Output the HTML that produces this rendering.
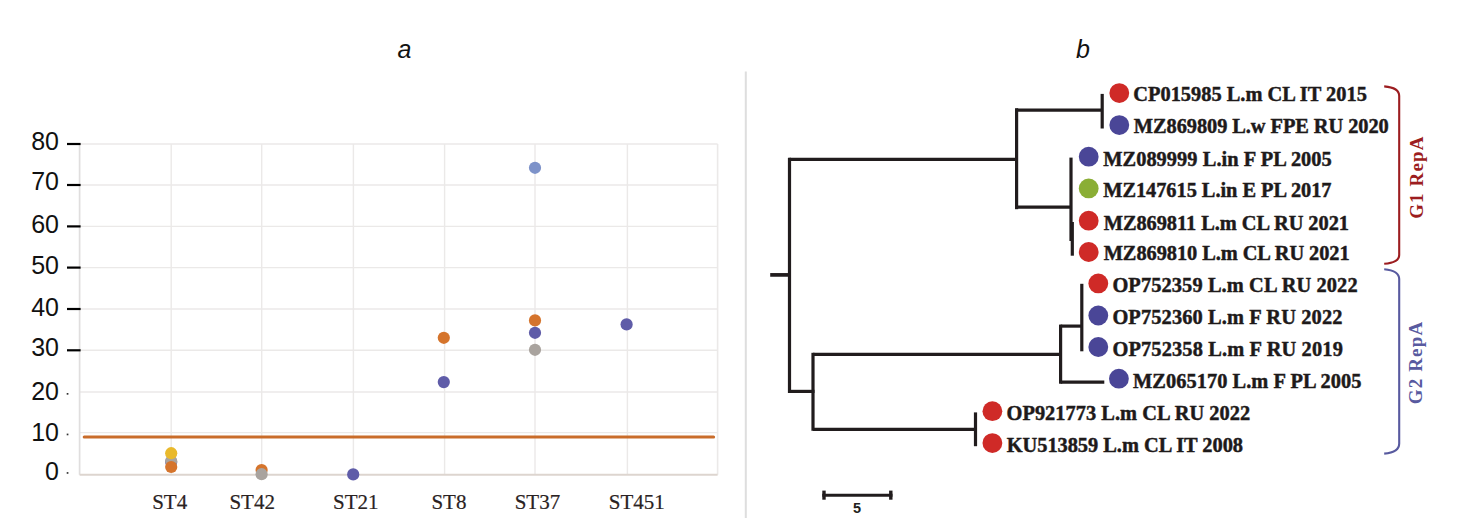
<!DOCTYPE html>
<html><head><meta charset="utf-8"><style>
html,body{margin:0;padding:0;background:#fff;width:1459px;height:530px;overflow:hidden}
svg{display:block}
.yl{font-family:"Liberation Sans",sans-serif;font-size:25px;fill:#111}
.xl{font-family:"Liberation Serif",serif;font-size:21px;fill:#2a2222;stroke:#2a2222;stroke-width:0.2px}
.pl{font-family:"Liberation Sans",sans-serif;font-style:italic;font-size:25px;fill:#111}
.tl{font-family:"Liberation Serif",serif;font-weight:bold;font-size:20.4px;fill:#1e1a1a;stroke:#1e1a1a;stroke-width:0.45px}
.sb{font-family:"Liberation Sans",sans-serif;font-weight:bold;font-size:14.5px;fill:#231f20}
.gl{font-family:"Liberation Serif",serif;font-weight:bold;font-size:19px;letter-spacing:1.15px}
</style></head><body>
<svg width="1459" height="530" viewBox="0 0 1459 530">
<line x1="79.6" y1="144.0" x2="717.6" y2="144.0" stroke="#ebe9e8" stroke-width="1.4"/>
<line x1="79.6" y1="185.0" x2="717.6" y2="185.0" stroke="#ebe9e8" stroke-width="1.4"/>
<line x1="79.6" y1="226.4" x2="717.6" y2="226.4" stroke="#ebe9e8" stroke-width="1.4"/>
<line x1="79.6" y1="267.6" x2="717.6" y2="267.6" stroke="#ebe9e8" stroke-width="1.4"/>
<line x1="79.6" y1="309.0" x2="717.6" y2="309.0" stroke="#ebe9e8" stroke-width="1.4"/>
<line x1="79.6" y1="350.3" x2="717.6" y2="350.3" stroke="#ebe9e8" stroke-width="1.4"/>
<line x1="79.6" y1="392.0" x2="717.6" y2="392.0" stroke="#ebe9e8" stroke-width="1.4"/>
<line x1="79.6" y1="432.6" x2="717.6" y2="432.6" stroke="#ebe9e8" stroke-width="1.4"/>
<line x1="171.2" y1="144.0" x2="171.2" y2="474.7" stroke="#ebe9e8" stroke-width="1.4"/>
<line x1="261.7" y1="144.0" x2="261.7" y2="474.7" stroke="#ebe9e8" stroke-width="1.4"/>
<line x1="353.4" y1="144.0" x2="353.4" y2="474.7" stroke="#ebe9e8" stroke-width="1.4"/>
<line x1="444.6" y1="144.0" x2="444.6" y2="474.7" stroke="#ebe9e8" stroke-width="1.4"/>
<line x1="535.0" y1="144.0" x2="535.0" y2="474.7" stroke="#ebe9e8" stroke-width="1.4"/>
<line x1="627.4" y1="144.0" x2="627.4" y2="474.7" stroke="#ebe9e8" stroke-width="1.4"/>
<line x1="717.6" y1="144.0" x2="717.6" y2="474.7" stroke="#ebe9e8" stroke-width="1.6"/>
<line x1="79.6" y1="144.0" x2="79.6" y2="474.7" stroke="#e0dede" stroke-width="1.7"/>
<line x1="79.6" y1="474.7" x2="717.6" y2="474.7" stroke="#ddd5cf" stroke-width="2"/>
<line x1="67" y1="144.0" x2="80.6" y2="144.0" stroke="#000" stroke-width="2.2"/>
<line x1="67" y1="185.0" x2="80.6" y2="185.0" stroke="#000" stroke-width="2.2"/>
<line x1="67" y1="226.4" x2="80.6" y2="226.4" stroke="#000" stroke-width="2.2"/>
<line x1="67" y1="267.6" x2="80.6" y2="267.6" stroke="#000" stroke-width="2.2"/>
<line x1="67" y1="309.0" x2="80.6" y2="309.0" stroke="#000" stroke-width="2.2"/>
<line x1="67" y1="350.3" x2="80.6" y2="350.3" stroke="#000" stroke-width="2.2"/>
<rect x="66.7" y="393.0" width="1.7" height="1.7" fill="#333"/>
<rect x="66.7" y="433.6" width="1.7" height="1.7" fill="#333"/>
<rect x="66.7" y="472.1" width="1.7" height="1.7" fill="#333"/>
<text x="59" y="150.4" text-anchor="end" class="yl">80</text>
<text x="59" y="190.4" text-anchor="end" class="yl">70</text>
<text x="59" y="233.3" text-anchor="end" class="yl">60</text>
<text x="59" y="274.4" text-anchor="end" class="yl">50</text>
<text x="59" y="316.0" text-anchor="end" class="yl">40</text>
<text x="59" y="356.4" text-anchor="end" class="yl">30</text>
<text x="59" y="400.4" text-anchor="end" class="yl">20</text>
<text x="59" y="440.8" text-anchor="end" class="yl">10</text>
<text x="59" y="479.5" text-anchor="end" class="yl">0</text>
<text x="152.2" y="509.2" class="xl">ST4</text>
<text x="229.4" y="509.2" class="xl">ST42</text>
<text x="333.0" y="509.2" class="xl">ST21</text>
<text x="431.4" y="509.2" class="xl">ST8</text>
<text x="514.7" y="509.2" class="xl">ST37</text>
<text x="608.8" y="509.2" class="xl">ST451</text>
<line x1="84.2" y1="436.9" x2="713.6" y2="436.9" stroke="#c96c2a" stroke-width="3" stroke-linecap="round"/>
<circle cx="171.2" cy="462.0" r="6.1" fill="#5f5ca8"/>
<circle cx="171.2" cy="461.0" r="6.1" fill="#a9a39e"/>
<circle cx="171.2" cy="467.0" r="6.1" fill="#d5742c"/>
<circle cx="171.2" cy="453.2" r="6.1" fill="#e9b92c"/>
<circle cx="261.6" cy="470.0" r="6.1" fill="#d5742c"/>
<circle cx="261.6" cy="474.2" r="6.1" fill="#a9a39e"/>
<circle cx="353.2" cy="474.4" r="6.1" fill="#5f5ca8"/>
<circle cx="443.8" cy="337.8" r="6.1" fill="#d5742c"/>
<circle cx="443.8" cy="382.1" r="6.1" fill="#5f5ca8"/>
<circle cx="535.0" cy="167.8" r="6.1" fill="#7d92c9"/>
<circle cx="535.0" cy="320.4" r="6.1" fill="#d5742c"/>
<circle cx="535.0" cy="332.8" r="6.1" fill="#5f5ca8"/>
<circle cx="535.0" cy="349.8" r="6.1" fill="#a9a39e"/>
<circle cx="626.6" cy="324.4" r="6.1" fill="#5f5ca8"/>
<text x="397.5" y="57.8" class="pl">a</text>
<text x="1076" y="57.8" class="pl">b</text>
<line x1="745.8" y1="71.6" x2="745.8" y2="518" stroke="#dedede" stroke-width="2"/>
<line x1="770.2" y1="274.9" x2="789.5" y2="274.9" stroke="#211c1d" stroke-width="3.7"/>
<line x1="789.5" y1="157.8" x2="789.5" y2="393.0" stroke="#211c1d" stroke-width="3.2"/>
<line x1="789.5" y1="159.4" x2="1016.6" y2="159.4" stroke="#211c1d" stroke-width="3.2"/>
<line x1="1016.6" y1="108.2" x2="1016.6" y2="209.2" stroke="#211c1d" stroke-width="3.2"/>
<line x1="1016.6" y1="110.2" x2="1102.2" y2="110.2" stroke="#211c1d" stroke-width="3.2"/>
<line x1="1102.2" y1="93.9" x2="1102.2" y2="128.5" stroke="#211c1d" stroke-width="3.2"/>
<line x1="1016.6" y1="207.2" x2="1071" y2="207.2" stroke="#211c1d" stroke-width="3.2"/>
<line x1="1071" y1="157.6" x2="1071" y2="241" stroke="#211c1d" stroke-width="3.2"/>
<line x1="1072.3" y1="222" x2="1072.3" y2="255.7" stroke="#211c1d" stroke-width="3.2"/>
<line x1="789.5" y1="391.4" x2="814.5" y2="391.4" stroke="#211c1d" stroke-width="3.2"/>
<line x1="813" y1="352.8" x2="813" y2="430.8" stroke="#211c1d" stroke-width="3.2"/>
<line x1="813" y1="354.3" x2="1060.6" y2="354.3" stroke="#211c1d" stroke-width="3.2"/>
<line x1="1060.6" y1="324.6" x2="1060.6" y2="383.7" stroke="#211c1d" stroke-width="3.2"/>
<line x1="1060.6" y1="326.1" x2="1081.8" y2="326.1" stroke="#211c1d" stroke-width="3.2"/>
<line x1="1081.8" y1="283.8" x2="1081.8" y2="351.3" stroke="#211c1d" stroke-width="3.2"/>
<line x1="1060.6" y1="382.2" x2="1104.3" y2="382.2" stroke="#211c1d" stroke-width="3.2"/>
<line x1="813" y1="429.3" x2="975.5" y2="429.3" stroke="#211c1d" stroke-width="3.2"/>
<line x1="975.5" y1="412.4" x2="975.5" y2="446.2" stroke="#211c1d" stroke-width="3.2"/>
<circle cx="1119.3" cy="93.1" r="9.9" fill="#cf2a27"/>
<text x="1133.3" y="101.2" class="tl">CP015985 L.m CL IT 2015</text>
<circle cx="1119.3" cy="125.1" r="9.9" fill="#4a4697"/>
<text x="1133.8" y="133.2" class="tl" style="letter-spacing:-0.07px">MZ869809 L.w FPE RU 2020</text>
<circle cx="1088.7" cy="156.7" r="9.9" fill="#4a4697"/>
<text x="1103.2" y="165.5" class="tl" style="letter-spacing:0.05px">MZ089999 L.in F PL 2005</text>
<circle cx="1088.7" cy="188.4" r="9.9" fill="#8aae35"/>
<text x="1103.2" y="197.29999999999998" class="tl" style="letter-spacing:-0.05px">MZ147615 L.in E PL 2017</text>
<circle cx="1088.7" cy="220.7" r="9.9" fill="#cf2a27"/>
<text x="1103.7" y="229.6" class="tl" style="letter-spacing:-0.05px">MZ869811 L.m CL RU 2021</text>
<circle cx="1088.7" cy="252.0" r="9.9" fill="#cf2a27"/>
<text x="1103.7" y="260.3" class="tl" style="letter-spacing:-0.07px">MZ869810 L.m CL RU 2021</text>
<circle cx="1098.3" cy="283.4" r="9.9" fill="#cf2a27"/>
<text x="1112.4" y="292.0" class="tl" style="letter-spacing:0.1px">OP752359 L.m CL RU 2022</text>
<circle cx="1098.3" cy="315.5" r="9.9" fill="#4a4697"/>
<text x="1112.4" y="323.7" class="tl" style="letter-spacing:0.12px">OP752360 L.m F RU 2022</text>
<circle cx="1098.3" cy="347.0" r="9.9" fill="#4a4697"/>
<text x="1112.4" y="355.7" class="tl" style="letter-spacing:0.14px">OP752358 L.m F RU 2019</text>
<circle cx="1118.9" cy="378.7" r="9.9" fill="#4a4697"/>
<text x="1133.0" y="387.7" class="tl" style="letter-spacing:0.05px">MZ065170 L.m F PL 2005</text>
<circle cx="992.4" cy="411.2" r="9.9" fill="#cf2a27"/>
<text x="1006.5" y="419.7" class="tl" style="letter-spacing:0.03px">OP921773 L.m CL RU 2022</text>
<circle cx="992.4" cy="443.1" r="9.9" fill="#cf2a27"/>
<text x="1006.7" y="451.59999999999997" class="tl" style="letter-spacing:-0.03px">KU513859 L.m CL IT 2008</text>
<line x1="822.3" y1="495.3" x2="892.5" y2="495.3" stroke="#211c1d" stroke-width="3"/>
<line x1="824" y1="490.6" x2="824" y2="499.7" stroke="#211c1d" stroke-width="3.4"/>
<line x1="890.8" y1="490.6" x2="890.8" y2="499.7" stroke="#211c1d" stroke-width="3.4"/>
<text x="857" y="512.6" text-anchor="middle" class="sb">5</text>
<path d="M1384.2,86.4 Q1399.2,87.6 1399.2,96 L1399.2,255 Q1399.2,262.6 1384.2,263.8" fill="none" stroke="#9c1d20" stroke-width="2.1"/>
<path d="M1384.2,269.2 Q1399.2,270.6 1399.2,279 L1399.2,443.5 Q1399.2,452.4 1384.2,453.6" fill="none" stroke="#585a9f" stroke-width="2.1"/>
<text transform="translate(1423.3,177.1) rotate(-90)" text-anchor="middle" class="gl" fill="#9c1d20">G1 RepA</text>
<text transform="translate(1422.4,362.5) rotate(-90)" text-anchor="middle" class="gl" fill="#585a9f">G2 RepA</text>
</svg>
</body></html>
